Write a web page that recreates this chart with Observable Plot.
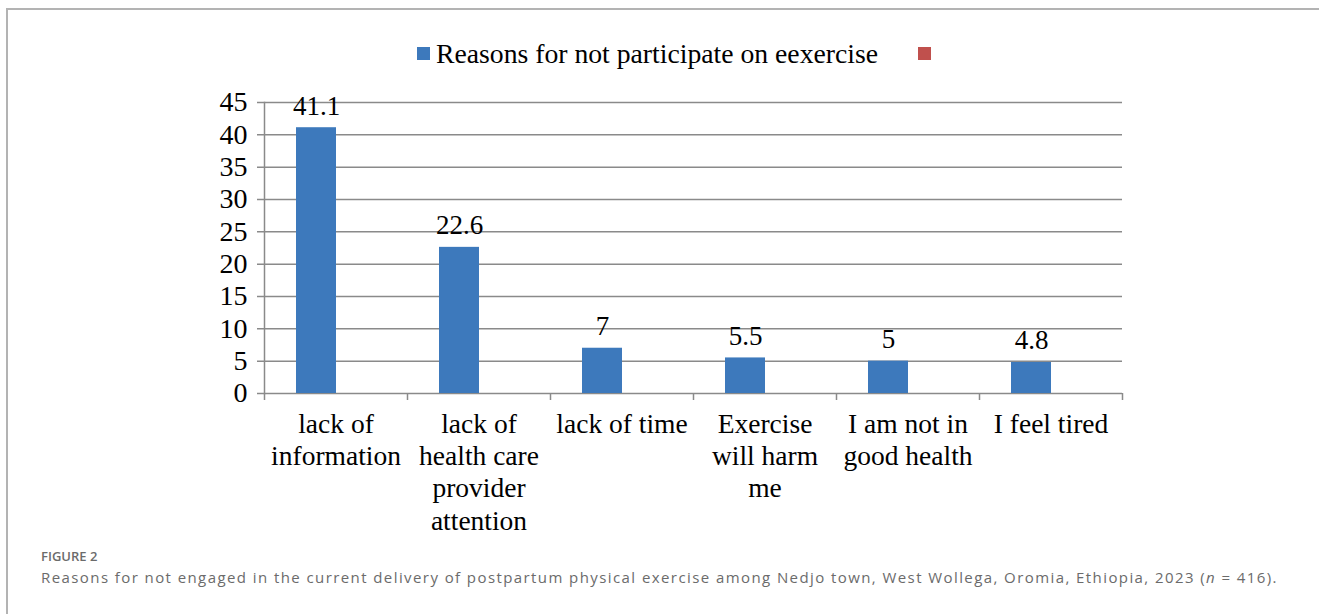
<!DOCTYPE html>
<html>
<head>
<meta charset="utf-8">
<script src="https://cdn.jsdelivr.net/npm/d3@7"></script>
<script src="https://cdn.jsdelivr.net/npm/@observablehq/plot@0.6"></script>
<style>
  html, body { margin: 0; padding: 0; background: #fff; }
  #wrap { position: relative; width: 1319px; height: 614px; overflow: hidden; background: #fff; }
  #frame { position: absolute; left: 6px; top: 8px; right: 0; bottom: 0; border-top: 2px solid #b3b3b3; border-left: 2px solid #b3b3b3; }
  #chart { position: absolute; left: 0; top: 0; }
  .legend-item { position: absolute; font-family: "Liberation Serif", "Times New Roman", serif; font-size: 27.7px; line-height: 1; color: #000; white-space: nowrap; }
  .swatch { position: absolute; width: 13px; height: 13px; }
  #figlabel { position: absolute; left: 41px; top: 550px; font-family: "Open Sans", sans-serif; font-weight: 600; font-size: 13px; line-height: 1; color: #6b6b6b; white-space: nowrap; }
  #caption { position: absolute; left: 41px; top: 570px; font-family: "Open Sans", sans-serif; font-size: 15px; line-height: 1; color: #6b6b6b; white-space: nowrap; }
</style>
</head>
<body>
<div id="wrap">
  <div id="frame"></div>
  <div id="chart"></div>
  <div id="legend"></div>
  <div id="figlabel"></div>
  <div id="caption"></div>
</div>
<script>
// ---- Data ----
const categories = [
  "lack of information",
  "lack of health care provider attention",
  "lack of time",
  "Exercise will harm me",
  "I am not in good health",
  "I feel tired"
];
const categoryLabels = [
  "lack of\ninformation",
  "lack of\nhealth care\nprovider\nattention",
  "lack of time",
  "Exercise\nwill harm\nme",
  "I am not in\ngood health",
  "I feel tired"
];
const values = [41.1, 22.6, 7, 5.5, 5, 4.8];
const yTicks = [0, 5, 10, 15, 20, 25, 30, 35, 40, 45];
const seriesNames = ["Reasons for not participate on eexercise", ""];
const seriesColors = ["#3d79bc", "#c0504d"];
const figureLabel = "FIGURE 2";
const captionText = "Reasons for not engaged in the current delivery of postpartum physical exercise among Nedjo town, West Wollega, Oromia, Ethiopia, 2023 (";
const captionN = "n";
const captionEnd = " = 416).";

const data = categories.map((c, i) => ({category: c, label: categoryLabels[i], value: values[i]}));

// ---- Layout ----
const W = 1319, H = 545;
const mL = 264, mR = 197, mT = 102, mB = 152;
const step = (W - mL - mR) / categories.length;
const barInsetL = 32, barInsetR = 71;
const barCenterOffset = (barInsetL + (step - barInsetR)) / 2 - step / 2;
const gridColor = "#8a8a8a";
const serif = "Liberation Serif, Times New Roman, serif";

const chart = Plot.plot({
  width: W,
  height: H,
  marginLeft: mL,
  marginRight: mR,
  marginTop: mT,
  marginBottom: mB,
  style: {fontFamily: serif, color: "#000", background: "transparent", overflow: "visible"},
  x: {domain: categories, padding: 0, axis: null},
  y: {domain: [0, 45], axis: null},
  marks: [
    Plot.ruleY(yTicks, {stroke: gridColor, strokeWidth: 1.5, insetLeft: -7}),
    Plot.axisY({ticks: yTicks, label: null, tickSize: 0, tickPadding: 17, fontSize: 28, fill: "#000", fontFamily: serif}),
    Plot.frame({anchor: "left", stroke: gridColor, strokeWidth: 1.5}),
    Plot.ruleX(categories, {x: d => d, y1: 0, y2: 0, dx: -step / 2, insetBottom: -7, stroke: gridColor, strokeWidth: 1.5}),
    Plot.ruleX(categories.slice(-1), {x: d => d, y1: 0, y2: 0, dx: step / 2, insetBottom: -7, stroke: gridColor, strokeWidth: 1.5}),
    Plot.barY(data, {x: "category", y: "value", fill: seriesColors[0], insetLeft: barInsetL, insetRight: barInsetR}),
    Plot.text(data, {x: "category", y: "value", text: d => String(d.value), dx: barCenterOffset, dy: -13, lineAnchor: "bottom", fontSize: 27, fill: "#000"}),
    Plot.text(data, {x: "category", frameAnchor: "bottom", text: "label", lineAnchor: "top", dy: 16, lineHeight: 1.18, fontSize: 27.5, fill: "#000"})
  ]
});
document.getElementById("chart").appendChild(chart);

// ---- Legend ----
const legend = document.getElementById("legend");
const sw1 = document.createElement("div");
sw1.className = "swatch"; sw1.style.left = "417px"; sw1.style.top = "47px"; sw1.style.background = seriesColors[0];
legend.appendChild(sw1);
const lt = document.createElement("div");
lt.className = "legend-item"; lt.style.left = "436px"; lt.style.top = "40px"; lt.textContent = seriesNames[0];
legend.appendChild(lt);
const sw2 = document.createElement("div");
sw2.className = "swatch"; sw2.style.left = "918px"; sw2.style.top = "47px"; sw2.style.background = seriesColors[1];
legend.appendChild(sw2);

// ---- Caption ----
document.getElementById("figlabel").textContent = figureLabel;
const cap = document.getElementById("caption");
cap.appendChild(document.createTextNode(captionText));
const em = document.createElement("i"); em.textContent = captionN; cap.appendChild(em);
cap.appendChild(document.createTextNode(captionEnd));
// fit caption to the reference's line length
const targetW = 1237;
const natW = cap.getBoundingClientRect().width;
const nChars = cap.textContent.length;
cap.style.letterSpacing = ((targetW - natW) / nChars) + "px";
</script>
</body>
</html>
